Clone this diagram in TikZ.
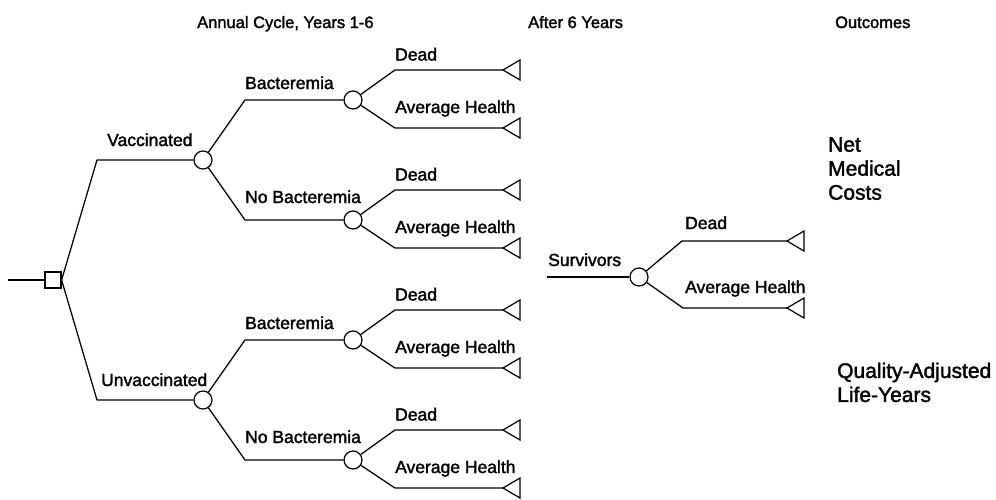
\documentclass[tikz,border=0pt]{standalone}
\usepackage{fontspec}
\setmainfont{Liberation Sans}[FakeBold=1.8]
\begin{document}
\begin{tikzpicture}[x=1pt,y=-1pt,
  branch/.style={line width=1.25pt, line join=round},
  chance/.style={circle, draw, line width=1.2pt, minimum size=18pt, inner sep=0pt},
  decision/.style={rectangle, draw, line width=1.2pt, minimum size=16pt, inner sep=0pt},
  leaf/.pic={\draw[line width=1.2pt, line join=miter] (0,0) -- (17,-10) -- (17,10) -- cycle;},
  lbl/.style={font=\fontsize{17.5}{20}\selectfont, inner sep=0pt, anchor=base west},
  head/.style={font=\fontsize{16.5}{20}\selectfont, inner sep=0pt, anchor=base west},
  outcome/.style={font=\fontsize{21}{24}\selectfont, inner sep=0pt, anchor=north west, align=left}]
\useasboundingbox (0,0) rectangle (996,499);

% column headings
\node[head] (hcycle) at (197,28) {Annual Cycle, Years 1-6};
\node[head] (hafter) at (528,28) {After 6 Years};
\node[head] (hout)   at (835,28) {Outcomes};

% decision node
\coordinate (root) at (8,280);
\node[decision] (dec) at (53,280) {};
\draw[branch] (root) -- (dec);

% vaccination chance nodes
\node[chance] (vac) at (203,160) {};
\node[chance] (unv) at (203,400) {};
\coordinate (kvac) at (97,160);
\coordinate (kunv) at (97,400);
\draw[branch] (dec.east) -- (kvac) -- (vac);
\draw[branch] (dec.east) -- (kunv) -- (unv);
\node[lbl] (lvac) at (107,146) {Vaccinated};
\node[lbl] (lunv) at (101,386) {Unvaccinated};

% bacteremia chance nodes, each with Dead / Average Health outcomes
\foreach \name/\src/\y/\txt/\dy in {vb/vac/100/Bacteremia/11, vn/vac/220/No Bacteremia/17,
                                    ub/unv/340/Bacteremia/11, un/unv/460/No Bacteremia/17} {
  \node[chance] (\name) at (353,\y) {};
  \coordinate (k\name) at (245,\y);
  \draw[branch] (\src) -- (k\name) -- (\name);
  \node[lbl] (\name-l) at (245,\y-\dy) {\txt};
  % Dead branch
  \coordinate (\name-dk) at (395,\y-30);
  \coordinate (\name-d) at (503,\y-30);
  \draw[branch] (\name) -- (\name-dk) -- (\name-d);
  \pic at (\name-d) {leaf};
  \node[lbl] (\name-dl) at (395,\y-39.5) {Dead};
  % Average Health branch
  \coordinate (\name-ak) at (395,\y+28);
  \coordinate (\name-a) at (503,\y+28);
  \draw[branch] (\name) -- (\name-ak) -- (\name-a);
  \pic at (\name-a) {leaf};
  \node[lbl] (\name-al) at (395,\y+13) {Average Health};
}

% survivors after six years
\coordinate (sroot) at (547,277);
\node[chance] (surv) at (639,277) {};
\draw[branch] (sroot) -- (surv);
\node[lbl] (lsurv) at (548,266) {Survivors};
\coordinate (sdk) at (682,241);
\coordinate (sd) at (787,241);
\coordinate (sak) at (683,308);
\coordinate (sa) at (787,308);
\draw[branch] (surv) -- (sdk) -- (sd);
\draw[branch] (surv) -- (sak) -- (sa);
\pic at (sd) {leaf};
\pic at (sa) {leaf};
\node[lbl] (lsd) at (685,229) {Dead};
\node[lbl] (lsa) at (685,293) {Average Health};

% outcome measures
\node[outcome] (ocost) at (828,137) {Net\\Medical\\Costs};
\node[outcome] (oqaly) at (837,362.5) {Quality-Adjusted\\Life-Years};
\end{tikzpicture}
\end{document}
